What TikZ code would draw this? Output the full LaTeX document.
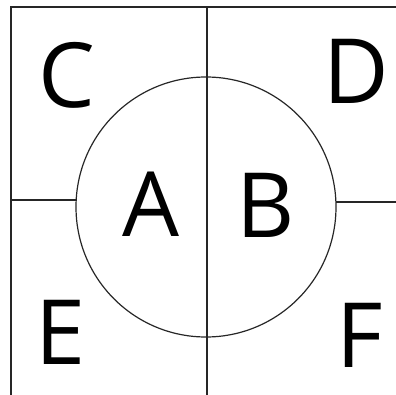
\documentclass[tikz,border=0pt]{standalone}
\usepackage{fontspec}
\setmainfont{Open Sans}
\begin{document}
\begin{tikzpicture}[x=1bp,y=1bp,
  edge/.style={draw=black!85,line width=1.2bp},
  letter/.style={inner sep=0pt,anchor=base,font=\fontsize{90bp}{90bp}\selectfont}]
\useasboundingbox (0,0) rectangle (396,395);
\node[edge,circle,minimum size=260bp,inner sep=0pt,outer sep=0pt] (c) at (206,188) {};
\coordinate (tl) at (11,388);
\coordinate (bl) at (11,0);
\coordinate (tr) at (396,388);
\coordinate (tm) at (207,388);
\coordinate (bm) at (207,0);
\coordinate (ml) at (11,195);
\coordinate (mr) at (396,193);
\draw[edge] (bl) -- (tl) -- (tr);
\draw[edge] (tm) -- (bm);
\draw[edge] (ml) -- (ml -| c.west);
\draw[edge] (mr -| c.east) -- (mr);
\node[letter] (C) at (67,288) {C};
\node[letter] (D) at (356,292) {D};
\node[letter] (A) at (151,159) {A};
\node[letter] (B) at (266,158) {B};
\node[letter] (E) at (61,31) {E};
\node[letter] (F) at (360,28) {F};
\end{tikzpicture}
\end{document}
